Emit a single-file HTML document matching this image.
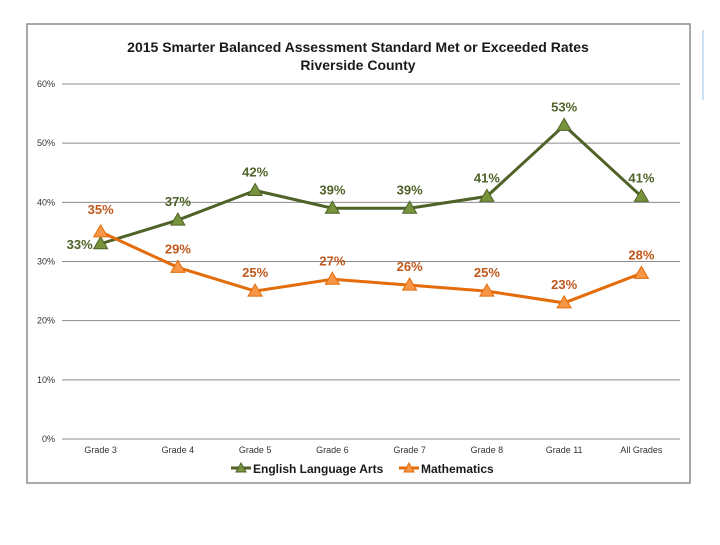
<!DOCTYPE html>
<html><head><meta charset="utf-8"><style>
body{margin:0;background:#fff;width:720px;height:540px;overflow:hidden;font-family:"Liberation Sans",sans-serif}
</style></head><body>
<svg width="720" height="540">
<rect x="27" y="24" width="663" height="459" fill="#fff" stroke="#8c8c8c" stroke-width="1.5"/>
<line x1="703" y1="30" x2="703" y2="100" stroke="#bcd6ee" stroke-width="1.5"/>
<text x="358" y="52" text-anchor="middle" font-size="14" font-weight="bold" fill="#1a1a1a">2015 Smarter Balanced Assessment Standard Met or Exceeded Rates</text>
<text x="358" y="70" text-anchor="middle" font-size="14" font-weight="bold" fill="#1a1a1a">Riverside County</text>
<g id="grid"></g><g id="lines"></g>
<g>
<line x1="231" y1="468" x2="251" y2="468" stroke="#4f6228" stroke-width="3"/>
<polygon points="241,463 246,472 236,472" fill="#77933c" stroke="#4f6228"/>
<text x="253" y="473" font-size="12" font-weight="bold" fill="#1a1a1a">English Language Arts</text>
<line x1="399" y1="468" x2="419" y2="468" stroke="#e46c0a" stroke-width="3"/>
<polygon points="409,463 414,472 404,472" fill="#f79646" stroke="#e46c0a"/>
<text x="421" y="473" font-size="12" font-weight="bold" fill="#1a1a1a">Mathematics</text>
</g>
</svg>
<script>
const categories=["Grade 3","Grade 4","Grade 5","Grade 6","Grade 7","Grade 8","Grade 11","All Grades"];
const elaValues=[33,37,42,39,39,41,53,41];
const mathValues=[35,29,25,27,26,25,23,28];
const yTicks=[0,10,20,30,40,50,60];
const NS="http://www.w3.org/2000/svg";
const X0=62,X1=680,Y0=439,Y1=84;
const xs=i=>X0+(X1-X0)/categories.length*(i+0.5);
const ys=v=>Y0-(Y0-Y1)*v/60;
function mk(t,a,p){const e=document.createElementNS(NS,t);for(const k in a)e.setAttribute(k,a[k]);p.appendChild(e);return e;}
const grid=document.getElementById('grid'),lines=document.getElementById('lines');
yTicks.forEach(v=>{
 const l=mk('line',{x1:X0,x2:X1,y1:ys(v),y2:ys(v),stroke:'#8c8c8c','stroke-width':1},grid);
 
 
 const t=mk('text',{x:55,y:ys(v)+3,'text-anchor':'end','font-size':9,fill:'#333'},grid);t.textContent=v+'%';
 
 
});
categories.forEach((c,i)=>{
 const t=mk('text',{x:xs(i),y:453,'text-anchor':'middle','font-size':9,fill:'#333'},grid);t.textContent=c;
 
 
});
function series(vals,stroke,fill,lblColor,name,offs){
 const p=mk('polyline',{points:vals.map((v,i)=>xs(i)+','+ys(v)).join(' '),fill:'none',stroke:stroke,'stroke-width':3},lines);
 
 
 vals.forEach((v,i)=>{
  const x=xs(i),y=ys(v);
  const m=mk('polygon',{points:`${x},${y-7} ${x+7},${y+5} ${x-7},${y+5}`,fill:fill,stroke:stroke,'stroke-width':1},lines);
  
  
  const o=offs(i);
  const t=mk('text',{x:x+o[0],y:y+o[1],'text-anchor':'middle','font-size':13,'font-weight':'bold',fill:lblColor},lines);t.textContent=v+'%';
  
  
 });
}
series(elaValues,'#4f6228','#77933c','#4f6228','ela',i=>i===0?[-21,5]:[0,-14]);
series(mathValues,'#e46c0a','#f79646','#c0581c','math',i=>i===0?[0,-18]:[0,-14]);
</script>
</body></html>
